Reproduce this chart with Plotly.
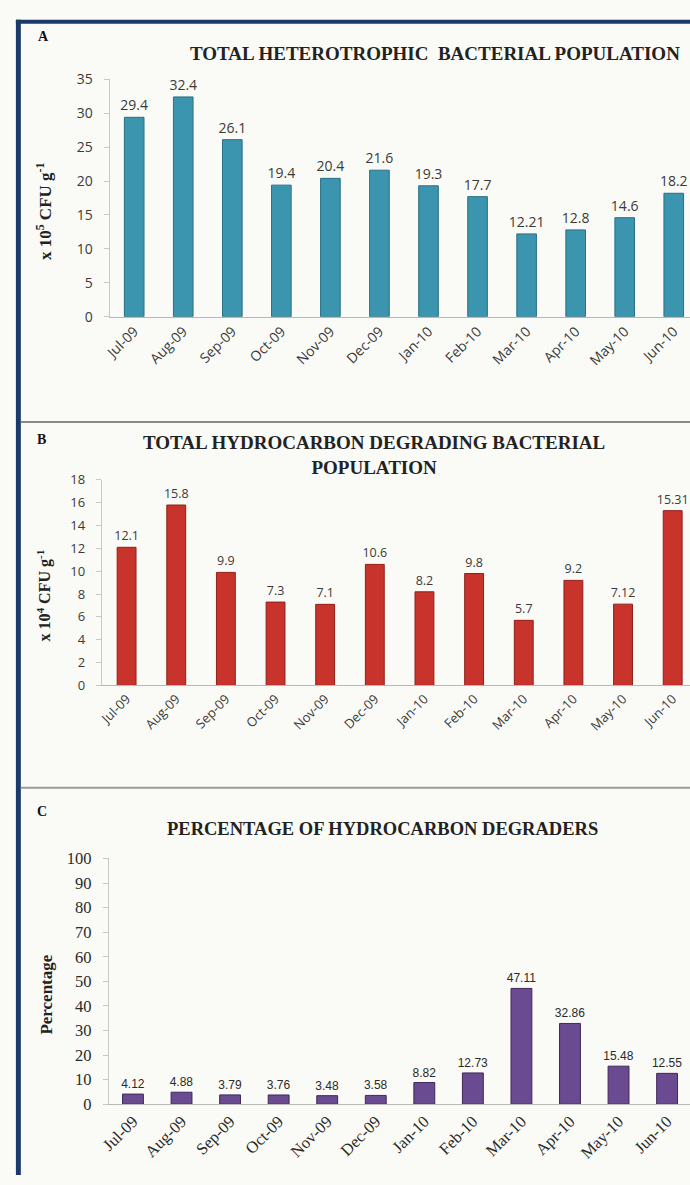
import plotly.graph_objects as go

# Monthly sampling, July 2009 to June 2010
months = ["Jul-09", "Aug-09", "Sep-09", "Oct-09", "Nov-09", "Dec-09",
          "Jan-10", "Feb-10", "Mar-10", "Apr-10", "May-10", "Jun-10"]

# Total heterotrophic bacteria (x 10^5 CFU/g)
heterotrophs = [29.4, 32.4, 26.1, 19.4, 20.4, 21.6, 19.3, 17.7, 12.21, 12.8, 14.6, 18.2]
# Total hydrocarbon degrading bacteria (x 10^4 CFU/g)
degraders = [12.1, 15.8, 9.9, 7.3, 7.1, 10.6, 8.2, 9.8, 5.7, 9.2, 7.12, 15.31]
# Degraders as percentage of heterotrophs
percent = [4.12, 4.88, 3.79, 3.76, 3.48, 3.58, 8.82, 12.73, 47.11, 32.86, 15.48, 12.55]

W, H = 690, 1185
SERIF = "Liberation Serif, Times New Roman, serif"
SANS = "Open Sans, Liberation Sans, sans-serif"
NARROW = "Liberation Sans Narrow, Liberation Sans, sans-serif"


def px_x(p):
    return p / W


def px_y(p):
    return 1 - p / H


def ydom(top, bottom):
    return [px_y(bottom), px_y(top)]


fig = go.Figure()

panels = [
    dict(vals=heterotrophs, color="#3c95ae", line="#2a6f84", xa="x", ya="y",
         yr=[0, 35], dt=5, ydom=ydom(70.5, 312), x0=102, step=49.7,
         tickfont=dict(family=SANS, size=14, color="#3a3a3a"),
         textfont=dict(family=SANS, size=14, color="#3a3a3a"), gap=0.6),
    dict(vals=degraders, color="#c8342c", line="#8e2019", xa="x2", ya="y2",
         yr=[0, 18], dt=2, ydom=ydom(478, 687), x0=94, step=50.3,
         tickfont=dict(family=SANS, size=13, color="#3a3a3a"),
         textfont=dict(family=SANS, size=12.5, color="#3a3a3a"), gap=0.62),
    dict(vals=percent, color="#6a4a90", line="#3f2a5c", xa="x3", ya="y3",
         yr=[0, 100], dt=10, ydom=ydom(863, 1113), x0=101, step=49.2,
         tickfont=dict(family=SERIF, size=16.5, color="#2a2a2a"),
         textfont=dict(family=NARROW, size=12, color="#2a2a2a"), gap=0.57),
]

for i, p in enumerate(panels):
    fig.add_trace(go.Bar(
        x=months, y=p["vals"], xaxis=p["xa"], yaxis=p["ya"],
        marker=dict(color=p["color"], line=dict(color=p["line"], width=1)),
        text=[str(v) for v in p["vals"]], textposition="outside",
        constraintext="none", textfont=p["textfont"], cliponaxis=False,
        showlegend=False, width=1 - p["gap"],
    ))
    suffix = "" if i == 0 else str(i + 1)
    xr_end = -0.5 + (W - p["x0"]) / p["step"]
    fig.layout["xaxis" + suffix] = dict(
        domain=[px_x(p["x0"]), 1], anchor="y" + suffix, range=[-0.5, xr_end],
        tickangle=-45, tickfont=p["tickfont"], showline=True,
        linecolor="#b8b8b8", linewidth=1, showgrid=False, ticks="",
        zeroline=False, fixedrange=True,
    )
    fig.layout["yaxis" + suffix] = dict(
        domain=p["ydom"], anchor="x" + suffix, range=p["yr"], dtick=p["dt"],
        tickfont=p["tickfont"], showline=True, linecolor="#c8c8c8",
        linewidth=1, ticks="outside", ticklen=5, tickcolor="#c8c8c8",
        showgrid=False, zeroline=False, fixedrange=True, ticklabelstandoff=8,
    )

annotations = [
    dict(x=px_x(35), y=px_y(27), text="<b>A</b>", font=dict(family=SERIF, size=14, color="#111")),
    dict(x=px_x(432), y=px_y(44), text="<b>TOTAL HETEROTROPHIC  BACTERIAL POPULATION</b>",
         font=dict(family=SERIF, size=19, color="#222")),
    dict(x=px_x(35), y=px_y(205), text="<b>x 10<sup>5</sup> CFU g<sup>-1</sup></b>", textangle=-90,
         font=dict(family=SERIF, size=17, color="#222")),
    dict(x=px_x(33), y=px_y(437), text="<b>B</b>", font=dict(family=SERIF, size=14, color="#111")),
    dict(x=px_x(370), y=px_y(453),
         text="<b>TOTAL HYDROCARBON DEGRADING BACTERIAL<br>POPULATION</b>",
         font=dict(family=SERIF, size=19, color="#222")),
    dict(x=px_x(36), y=px_y(596), text="<b>x 10<sup>4</sup> CFU g<sup>-1</sup></b>", textangle=-90,
         font=dict(family=SERIF, size=16, color="#222")),
    dict(x=px_x(33), y=px_y(815), text="<b>C</b>", font=dict(family=SERIF, size=14, color="#111")),
    dict(x=px_x(378), y=px_y(833), text="<b>PERCENTAGE OF HYDROCARBON DEGRADERS</b>",
         font=dict(family=SERIF, size=18.5, color="#222")),
    dict(x=px_x(38), y=px_y(1002), text="<b>Percentage</b>", textangle=-90,
         font=dict(family=SERIF, size=17, color="#222")),
]
for a in annotations:
    a.update(xref="paper", yref="paper", showarrow=False, xanchor="center", yanchor="middle")

shapes = [
    # frame on the left and top
    dict(type="rect", xref="paper", yref="paper", x0=px_x(7), x1=px_x(12), y0=0, y1=px_y(10),
         fillcolor="#1b3a6a", line=dict(width=0)),
    dict(type="rect", xref="paper", yref="paper", x0=px_x(7), x1=1, y0=px_y(14), y1=px_y(10),
         fillcolor="#1b3a6a", line=dict(width=0)),
    # panel dividers
    dict(type="line", xref="paper", yref="paper", x0=px_x(12), x1=1, y0=px_y(419), y1=px_y(419),
         line=dict(color="#8a8a8a", width=2)),
    dict(type="line", xref="paper", yref="paper", x0=px_x(12), x1=1, y0=px_y(791), y1=px_y(791),
         line=dict(color="#9a9a9a", width=2)),
]

fig.update_layout(
    width=W, height=H, margin=dict(l=0, r=0, t=0, b=0),
    paper_bgcolor="#fafaf6", plot_bgcolor="rgba(0,0,0,0)",
    annotations=annotations, shapes=shapes,
)

fig.write_html("out.html")
